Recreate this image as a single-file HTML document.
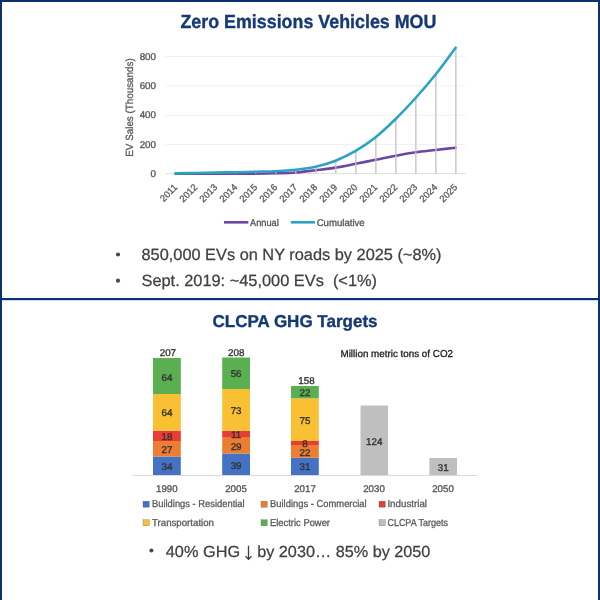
<!DOCTYPE html>
<html><head><meta charset="utf-8">
<style>
html,body{margin:0;padding:0;background:#fff;}
body{width:600px;height:600px;overflow:hidden;position:relative;}
svg{position:absolute;left:0;top:0;will-change:transform;}
text{font-family:"Liberation Sans",sans-serif;text-rendering:geometricPrecision;}
</style></head>
<body>
<svg width="600" height="600" viewBox="0 0 600 600">
  <rect x="0" y="0" width="600" height="600" fill="#fff"/>
  <!-- borders -->
  <rect x="0" y="0" width="600" height="2" fill="#0d3170"/>
  <rect x="0" y="0" width="2" height="600" fill="#0d3170"/>
  <rect x="598" y="0" width="2" height="600" fill="#0d3170"/>
  <rect x="0" y="298" width="600" height="2.2" fill="#0d3170"/>

  <!-- ===== Top slide ===== -->
  <text x="308.4" y="28.1" text-anchor="middle" font-size="19" font-weight="bold" fill="#153976" stroke="#153976" stroke-width="0.35" textLength="256" lengthAdjust="spacingAndGlyphs">Zero Emissions Vehicles MOU</text>

  <!-- gridlines -->
  <g stroke="#f0f0f0" stroke-width="1">
    <line x1="165.5" y1="56.6" x2="465.5" y2="56.6"/>
    <line x1="165.5" y1="85.9" x2="465.5" y2="85.9"/>
    <line x1="165.5" y1="115.2" x2="465.5" y2="115.2"/>
    <line x1="165.5" y1="144.4" x2="465.5" y2="144.4"/>
    <line x1="165.5" y1="173.7" x2="465.5" y2="173.7" stroke="#dcdcdc"/>
  </g>
  <!-- y labels -->
  <g font-size="9.8" fill="#595959" stroke="#595959" stroke-width="0.35" text-anchor="end">
    <text x="156" y="59.8">800</text>
    <text x="156" y="89.1">600</text>
    <text x="156" y="118.4">400</text>
    <text x="156" y="147.6">200</text>
    <text x="156" y="176.9">0</text>
  </g>
  <text transform="translate(132.9,107.5) rotate(-90)" text-anchor="middle" font-size="10.4" textLength="98.4" lengthAdjust="spacingAndGlyphs" fill="#595959" stroke="#595959" stroke-width="0.3">EV Sales (Thousands)</text>

  <!-- series -->
  <path fill="none" stroke="#6d47a5" stroke-width="2.6" stroke-linecap="round" stroke-linejoin="round" d="M175.6,173.80 C178.9,173.80 188.9,173.80 195.6,173.80 C202.3,173.80 208.9,173.80 215.6,173.80 C222.3,173.80 228.9,173.82 235.6,173.80 C242.3,173.78 248.9,173.78 255.6,173.70 C262.3,173.62 268.9,173.50 275.6,173.30 C282.3,173.10 288.9,173.02 295.6,172.50 C302.3,171.98 308.9,171.02 315.6,170.20 C322.3,169.38 328.9,168.67 335.6,167.60 C342.3,166.53 348.9,165.10 355.6,163.80 C362.3,162.50 368.9,161.13 375.6,159.80 C382.3,158.47 388.9,157.07 395.6,155.80 C402.3,154.53 408.9,153.17 415.6,152.20 C422.3,151.23 428.9,150.75 435.6,150.00 C442.3,149.25 452.3,148.08 455.6,147.70"/>
  <!-- drop lines -->
  <g stroke="#c2c2c2" stroke-width="1.3">
    <line x1="175.85" y1="173.4" x2="175.85" y2="173.7"/>
    <line x1="195.85" y1="173.0" x2="195.85" y2="173.7"/>
    <line x1="215.85" y1="172.6" x2="215.85" y2="173.7"/>
    <line x1="235.85" y1="172.2" x2="235.85" y2="173.7"/>
    <line x1="255.85" y1="171.7" x2="255.85" y2="173.7"/>
    <line x1="275.85" y1="171.2" x2="275.85" y2="173.7"/>
    <line x1="295.85" y1="169.7" x2="295.85" y2="173.7"/>
    <line x1="315.85" y1="166.7" x2="315.85" y2="173.7"/>
    <line x1="335.85" y1="160.7" x2="335.85" y2="173.7"/>
    <line x1="355.85" y1="150.9" x2="355.85" y2="173.7"/>
    <line x1="375.85" y1="137.2" x2="375.85" y2="173.7"/>
    <line x1="395.85" y1="119.0" x2="395.85" y2="173.7"/>
    <line x1="415.85" y1="98" x2="415.85" y2="173.7"/>
    <line x1="435.85" y1="74.5" x2="435.85" y2="173.7"/>
    <line x1="455.85" y1="47.7" x2="455.85" y2="173.7"/>
  </g>
    <path fill="none" stroke="#2ca3c3" stroke-width="2.6" stroke-linecap="round" stroke-linejoin="round" d="M175.6,173.40 C178.9,173.33 188.9,173.13 195.6,173.00 C202.3,172.87 208.9,172.73 215.6,172.60 C222.3,172.47 228.9,172.35 235.6,172.20 C242.3,172.05 248.9,171.87 255.6,171.70 C262.3,171.53 268.9,171.53 275.6,171.20 C282.3,170.87 288.9,170.45 295.6,169.70 C302.3,168.95 308.9,168.20 315.6,166.70 C322.3,165.20 328.9,163.33 335.6,160.70 C342.3,158.07 348.9,154.82 355.6,150.90 C362.3,146.98 368.9,142.52 375.6,137.20 C382.3,131.88 388.9,125.53 395.6,119.00 C402.3,112.47 408.9,105.42 415.6,98.00 C422.3,90.58 428.9,82.88 435.6,74.50 C442.3,66.12 452.3,52.17 455.6,47.70"/>

  <!-- x labels -->
  <g font-size="9.4" fill="#595959" stroke="#595959" stroke-width="0.3" text-anchor="end">
    <text transform="translate(178.0,187.9) rotate(-45)">2011</text>
    <text transform="translate(198.0,187.9) rotate(-45)">2012</text>
    <text transform="translate(218.0,187.9) rotate(-45)">2013</text>
    <text transform="translate(238.0,187.9) rotate(-45)">2014</text>
    <text transform="translate(258.0,187.9) rotate(-45)">2015</text>
    <text transform="translate(278.0,187.9) rotate(-45)">2016</text>
    <text transform="translate(298.0,187.9) rotate(-45)">2017</text>
    <text transform="translate(318.0,187.9) rotate(-45)">2018</text>
    <text transform="translate(338.0,187.9) rotate(-45)">2019</text>
    <text transform="translate(358.0,187.9) rotate(-45)">2020</text>
    <text transform="translate(378.0,187.9) rotate(-45)">2021</text>
    <text transform="translate(398.0,187.9) rotate(-45)">2022</text>
    <text transform="translate(418.0,187.9) rotate(-45)">2023</text>
    <text transform="translate(438.0,187.9) rotate(-45)">2024</text>
    <text transform="translate(458.0,187.9) rotate(-45)">2025</text>
  </g>

  <!-- legend -->
  <line x1="224" y1="222.3" x2="248.4" y2="222.3" stroke="#6d47a5" stroke-width="2.6"/>
  <text x="250" y="225.6" font-size="9.8" fill="#595959" stroke="#595959" stroke-width="0.35" textLength="28.7" lengthAdjust="spacingAndGlyphs">Annual</text>
  <line x1="290.8" y1="222.3" x2="315" y2="222.3" stroke="#2ca3c3" stroke-width="2.6"/>
  <text x="316.7" y="225.6" font-size="9.8" fill="#595959" stroke="#595959" stroke-width="0.35" textLength="48" lengthAdjust="spacingAndGlyphs">Cumulative</text>

  <!-- bullets -->
  <g font-size="16.2" fill="#404045" stroke="#404045" stroke-width="0.25">
    <circle cx="118" cy="254.5" r="2.1" fill="#48484d" stroke="none"/>
    <text x="141.5" y="260.1" textLength="300" lengthAdjust="spacingAndGlyphs">850,000 EVs on NY roads by 2025 (~8%)</text>
    <circle cx="118" cy="280.7" r="2.1" fill="#48484d" stroke="none"/>
    <text x="141.5" y="285.6" textLength="235.5" lengthAdjust="spacingAndGlyphs" xml:space="preserve">Sept. 2019: ~45,000 EVs  (&lt;1%)</text>
  </g>

  <!-- ===== Bottom slide ===== -->
  <text x="295" y="327.3" text-anchor="middle" font-size="17.2" font-weight="bold" fill="#153976" stroke="#153976" stroke-width="0.35" textLength="165" lengthAdjust="spacingAndGlyphs">CLCPA GHG Targets</text>

  <text x="340.5" y="357.2" font-size="10" fill="#1a1a1a" stroke="#1a1a1a" stroke-width="0.3" textLength="112.5" lengthAdjust="spacingAndGlyphs">Million metric tons of CO2</text>

  <!-- bars -->
  <g>
    <!-- 1990 -->
    <rect x="153" y="456.5" width="27.8" height="19" fill="#4472c4"/>
    <rect x="153" y="441" width="27.8" height="15.5" fill="#ed7d31"/>
    <rect x="153" y="430.7" width="27.8" height="10.3" fill="#e83c34"/>
    <rect x="153" y="394" width="27.8" height="36.7" fill="#f8c032"/>
    <rect x="153" y="358" width="27.8" height="36" fill="#5aaf50"/>
    <!-- 2005 -->
    <rect x="222.2" y="453.5" width="27.8" height="22" fill="#4472c4"/>
    <rect x="222.2" y="437" width="27.8" height="16.5" fill="#ed7d31"/>
    <rect x="222.2" y="430.8" width="27.8" height="6.2" fill="#e83c34"/>
    <rect x="222.2" y="389" width="27.8" height="41.8" fill="#f8c032"/>
    <rect x="222.2" y="357.5" width="27.8" height="31.5" fill="#5aaf50"/>
    <!-- 2017 -->
    <rect x="291" y="457.8" width="27.8" height="17.7" fill="#4472c4"/>
    <rect x="291" y="445" width="27.8" height="12.8" fill="#ed7d31"/>
    <rect x="291" y="441" width="27.8" height="4" fill="#e83c34"/>
    <rect x="291" y="398.3" width="27.8" height="42.7" fill="#f8c032"/>
    <rect x="291" y="386" width="27.8" height="12.3" fill="#5aaf50"/>
    <!-- 2030 -->
    <rect x="360.5" y="405.5" width="27.6" height="70" fill="#bfbfbf"/>
    <!-- 2050 -->
    <rect x="429.4" y="458" width="27.6" height="17.5" fill="#bfbfbf"/>
  </g>
  <line x1="132.5" y1="475.5" x2="477.5" y2="475.5" stroke="#d9d9d9" stroke-width="1"/>

  <!-- data labels -->
  <g font-size="9.8" fill="#333" stroke="#333" stroke-width="0.35" text-anchor="middle">
    <text x="167.9" y="356.2">207</text>
    <text x="166.9" y="381.2">64</text>
    <text x="166.9" y="416.3">64</text>
    <text x="166.9" y="439.9">18</text>
    <text x="166.9" y="452.9">27</text>
    <text x="166.9" y="470.2">34</text>

    <text x="236.2" y="356.0">208</text>
    <text x="236.1" y="377.4">56</text>
    <text x="236.1" y="414.1">73</text>
    <text x="236.1" y="438.3">11</text>
    <text x="236.1" y="449.7">29</text>
    <text x="236.1" y="468.7">39</text>

    <text x="306.5" y="383.5">158</text>
    <text x="304.9" y="396.2">22</text>
    <text x="304.9" y="423.9">75</text>
    <text x="304.9" y="447.2">8</text>
    <text x="304.9" y="455.7">22</text>
    <text x="304.9" y="470.2">31</text>

    <text x="374.2" y="444.7">124</text>
    <text x="443.2" y="470.7">31</text>
  </g>

  <!-- category labels -->
  <g font-size="9.7" fill="#595959" stroke="#595959" stroke-width="0.35" text-anchor="middle">
    <text x="166.8" y="492.3">1990</text>
    <text x="236" y="492.3">2005</text>
    <text x="305" y="492.3">2017</text>
    <text x="374" y="492.3">2030</text>
    <text x="443" y="492.3">2050</text>
  </g>

  <!-- legend -->
  <g font-size="10" fill="#595959" stroke="#595959" stroke-width="0.3">
    <rect x="143" y="501.2" width="6.3" height="6" fill="#4472c4"/>
    <text x="152" y="507.2" textLength="92.6" lengthAdjust="spacingAndGlyphs">Buildings - Residential</text>
    <rect x="261" y="501.2" width="6.3" height="6" fill="#ed7d31"/>
    <text x="270" y="507.2" textLength="96.6" lengthAdjust="spacingAndGlyphs">Buildings - Commercial</text>
    <rect x="379" y="501.2" width="6.3" height="6" fill="#e83c34"/>
    <text x="387.4" y="507.2" textLength="39.6" lengthAdjust="spacingAndGlyphs">Industrial</text>

    <rect x="143" y="519.8" width="6.3" height="6" fill="#f8c032"/>
    <text x="152" y="525.8" textLength="62" lengthAdjust="spacingAndGlyphs">Transportation</text>
    <rect x="261" y="519.8" width="6.3" height="6" fill="#5aaf50"/>
    <text x="270" y="525.8" textLength="60" lengthAdjust="spacingAndGlyphs">Electric Power</text>
    <rect x="379" y="519.8" width="6.3" height="6" fill="#bfbfbf"/>
    <text x="387.4" y="525.8" textLength="60.6" lengthAdjust="spacingAndGlyphs">CLCPA Targets</text>
  </g>

  <!-- bottom bullet -->
  <circle cx="151.4" cy="550.6" r="2.0" fill="#48484d"/>
  <text x="165.8" y="556.6" font-size="16" fill="#404045" stroke="#404045" stroke-width="0.25" textLength="74.3" lengthAdjust="spacingAndGlyphs">40% GHG</text>
  <path d="M248.5,545.7 V559.4 M245.6,556.2 L248.5,559.4 L251.5,556.2" fill="none" stroke="#3d3d42" stroke-width="1.3" stroke-linejoin="miter"/>
  <text x="257.2" y="556.6" font-size="16" fill="#404045" stroke="#404045" stroke-width="0.25" textLength="173.2" lengthAdjust="spacingAndGlyphs">by 2030… 85% by 2050</text>
</svg>
</body></html>
